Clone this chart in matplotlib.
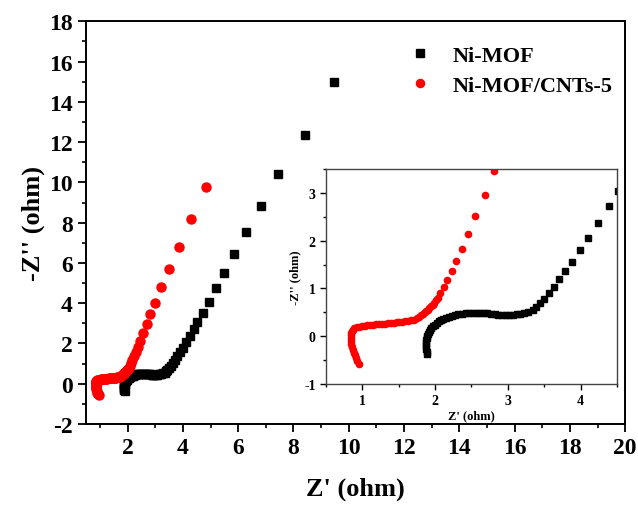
import matplotlib
matplotlib.use("Agg")
import matplotlib.pyplot as plt
from matplotlib.ticker import MultipleLocator

# Nyquist data
ni_mof_x = [1.895, 1.885, 1.88, 1.878, 1.878, 1.88, 1.885, 1.89, 1.90, 1.915,
            1.93, 1.95, 1.97, 1.995, 2.02, 2.05, 2.08, 2.11, 2.15, 2.19,
            2.23, 2.27, 2.32, 2.37, 2.42, 2.47, 2.52, 2.57, 2.62, 2.67,
            2.72, 2.77, 2.82, 2.87, 2.92, 2.97, 3.02, 3.07, 3.12, 3.17,
            3.22, 3.28, 3.34, 3.39, 3.44, 3.50, 3.56, 3.63, 3.71, 3.79,
            3.885, 3.99, 4.10, 4.24, 4.39, 4.52, 4.71, 4.94, 5.21, 5.50,
            5.86, 6.30, 6.83, 7.45, 8.4, 9.45]
ni_mof_y = [-0.38, -0.32, -0.26, -0.20, -0.14, -0.08, -0.03, 0.01, 0.05, 0.09,
            0.13, 0.17, 0.21, 0.245, 0.28, 0.31, 0.34, 0.365, 0.39, 0.41,
            0.43, 0.445, 0.46, 0.47, 0.48, 0.485, 0.49, 0.49, 0.49, 0.485,
            0.48, 0.47, 0.46, 0.455, 0.45, 0.445, 0.445, 0.45, 0.46, 0.475,
            0.49, 0.51, 0.545, 0.61, 0.69, 0.787, 0.905, 1.04, 1.19, 1.36,
            1.56, 1.80, 2.06, 2.37, 2.72, 3.05, 3.51, 4.07, 4.76, 5.51,
            6.44, 7.54, 8.83, 10.41, 12.35, 15.0]

cnt_x = [0.95, 0.93, 0.91, 0.895, 0.88, 0.87, 0.86, 0.85, 0.845, 0.84,
         0.84, 0.845, 0.855, 0.87, 0.89, 0.92, 0.95, 0.99, 1.03, 1.07,
         1.11, 1.15, 1.19, 1.23, 1.27, 1.31, 1.35, 1.39, 1.43, 1.47,
         1.51, 1.55, 1.59, 1.63, 1.67, 1.71, 1.745, 1.775, 1.80, 1.83,
         1.855, 1.88, 1.90, 1.92, 1.945, 1.97, 1.99, 2.01, 2.035, 2.07,
         2.12, 2.16, 2.23, 2.29, 2.37, 2.45, 2.55, 2.685, 2.81, 2.99,
         3.20, 3.49, 3.85, 4.30, 4.84]
cnt_y = [-0.58, -0.52, -0.46, -0.40, -0.34, -0.28, -0.22, -0.16, -0.10, -0.04,
         0.02, 0.07, 0.11, 0.14, 0.165, 0.185, 0.20, 0.21, 0.22, 0.23,
         0.24, 0.245, 0.25, 0.255, 0.26, 0.265, 0.27, 0.275, 0.28, 0.29,
         0.295, 0.30, 0.31, 0.32, 0.335, 0.35, 0.38, 0.41, 0.44, 0.47,
         0.50, 0.53, 0.56, 0.59, 0.625, 0.66, 0.70, 0.75, 0.80, 0.90,
         1.03, 1.18, 1.36, 1.58, 1.83, 2.14, 2.51, 2.96, 3.45, 4.00,
         4.78, 5.71, 6.81, 8.17, 9.79]

labels = ["Ni-MOF", "Ni-MOF/CNTs-5"]

plt.rcParams["font.family"] = "Liberation Serif"
plt.rcParams["font.weight"] = "bold"
plt.rcParams["axes.unicode_minus"] = False

fig = plt.figure(figsize=(6.38, 5.06), dpi=100)
ax = fig.add_axes([0.135, 0.160, 0.845, 0.796])

ax.plot(ni_mof_x, ni_mof_y, "s", color="black", markersize=6, label=labels[0])
ax.plot(cnt_x, cnt_y, "o", color="red", markersize=6.5, label=labels[1])

ax.set_xlim(0.5, 20)
ax.set_ylim(-2, 18)
ax.xaxis.set_major_locator(MultipleLocator(2))
ax.xaxis.set_minor_locator(MultipleLocator(1))
ax.yaxis.set_major_locator(MultipleLocator(2))
ax.yaxis.set_minor_locator(MultipleLocator(1))
ax.tick_params(which="major", direction="out", length=6, width=1.3, labelsize=17)
ax.tick_params(which="minor", direction="out", length=3, width=1.2)
for sp in ax.spines.values():
    sp.set_linewidth(1.4)
ax.set_xlabel("Z' (ohm)", fontsize=19, fontweight="bold", labelpad=13)
ax.set_ylabel("-Z'' (ohm)", fontsize=19, fontweight="bold", labelpad=3)

ax.legend(loc="upper left", bbox_to_anchor=(0.541, 0.99), frameon=False,
          prop={"size": 16, "weight": "bold"}, handletextpad=0.45,
          labelspacing=0.42, markerscale=0.9)

# inset zoom on the high-frequency region
ins = fig.add_axes([0.511, 0.239, 0.456, 0.425])
ins.plot(ni_mof_x, ni_mof_y, "s", color="black", markersize=4.2)
ins.plot(cnt_x, cnt_y, "o", color="red", markersize=4.5)
ins.set_xlim(0.5, 4.5)
ins.set_ylim(-1, 3.5)
ins.xaxis.set_major_locator(MultipleLocator(1))
ins.xaxis.set_minor_locator(MultipleLocator(0.5))
ins.yaxis.set_major_locator(MultipleLocator(1))
ins.yaxis.set_minor_locator(MultipleLocator(0.5))
ins.tick_params(which="major", direction="out", length=4, width=1, labelsize=10)
ins.tick_params(which="minor", direction="out", length=2, width=1)
for sp in ins.spines.values():
    sp.set_linewidth(1.0)
    sp.set_color("#444444")
ins.set_xlabel("Z' (ohm)", fontsize=9, fontweight="bold", labelpad=1)
ins.set_ylabel("-Z'' (ohm)", fontsize=9, fontweight="bold", labelpad=2)

fig.savefig("out.png", dpi=100)
